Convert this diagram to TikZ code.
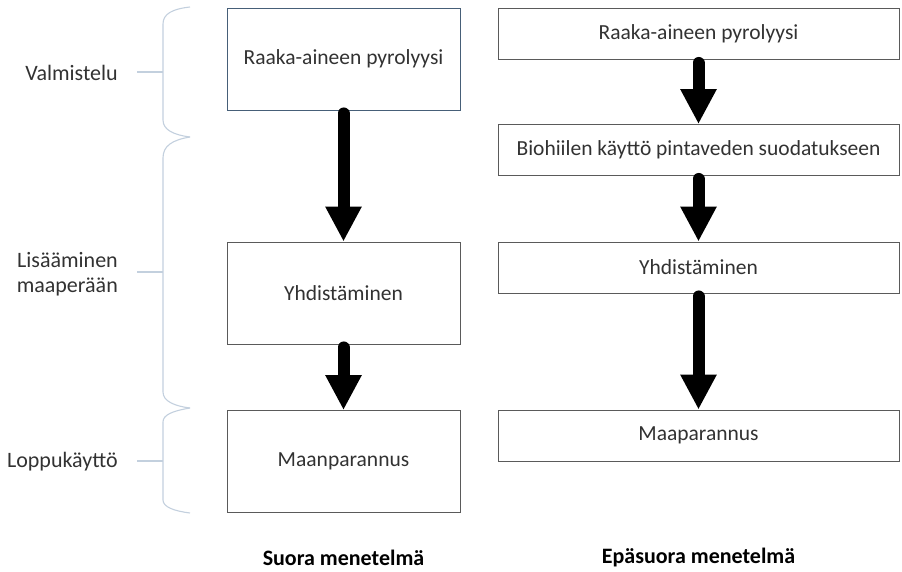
\documentclass[tikz,border=0pt]{standalone}
\usepackage{fontspec}
\setmainfont{Carlito}
\usetikzlibrary{arrows.meta}
\definecolor{boxline}{RGB}{90,90,90}
\definecolor{boxlineblue}{RGB}{70,95,120}
\definecolor{txt}{RGB}{50,50,50}
\definecolor{bracecol}{RGB}{195,208,222}
\tikzset{
  stepbox/.style={draw=boxline, line width=0.9pt, fill=white, inner sep=0pt, font=\fontsize{21.5}{25}\selectfont, text=txt},
  leftbox/.style={stepbox, minimum width=233pt, minimum height=102pt},
  rightbox/.style={stepbox, minimum width=401pt, minimum height=51pt},
  bigarrow/.style={line width=12pt, line cap=round, -{Triangle[width=34pt,length=35pt]}, shorten <=3pt},
  phase/.style={anchor=east, align=right, font=\fontsize{22}{25.5}\selectfont, text=txt, inner sep=0pt},
  bracestyle/.style={draw=bracecol, line width=1.1pt},
  method/.style={font=\bfseries\fontsize{22}{25}\selectfont, inner sep=0pt}
}
\begin{document}
\begin{tikzpicture}[x=1pt,y=-1pt]
\useasboundingbox (0,0) rectangle (902,572);
% left column
\node[leftbox, draw=boxlineblue] (l1) at (343.5,59) {Raaka-aineen pyrolyysi};
\node[leftbox] (l2) at (343.5,293) {Yhdistäminen};
\node[leftbox] (l3) at (343.5,461.5) {Maanparannus};
\draw[bigarrow] (l1.south) -- (l2.north);
\draw[bigarrow] (l2.south) -- (l3.north);
% right column
\node[rightbox] (r1) at (698.5,34) {Raaka-aineen pyrolyysi};
\node[rightbox] (r2) at (698.5,150) {Biohiilen käyttö pintaveden suodatukseen};
\node[rightbox] (r3) at (698.5,267.5) {Yhdistäminen};
\node[rightbox] (r4) at (698.5,435.5) {Maaparannus};
\draw[bigarrow] (r1.south) -- (r2.north);
\draw[bigarrow] (r2.south) -- (r3.north);
\draw[bigarrow] (r3.south) -- (r4.north);
% method labels
\node[method] (m1) at (343.5,558) {Suora menetelmä};
\node[method] (m2) at (698.5,558) {Epäsuora menetelmä};
% phase labels
\node[phase] (p1) at (118,73) {Valmistelu};
\node[phase] (p2) at (118,274) {Lisääminen\\maaperään};
\node[phase] (p3) at (118,462) {Loppukäyttö};
% braces
\coordinate (b1) at (163,72);
\coordinate (b2) at (163,272);
\coordinate (b3) at (163,461);
\draw[bracestyle] (190,7) .. controls (172,9) and (163,14) .. (163,24) -- (163,120) .. controls (163,130) and (174,135) .. (190,137);
\draw[bracestyle] (190,137) .. controls (172,140) and (163,146) .. (163,158) -- (163,392) .. controls (163,401) and (174,406) .. (190,408);
\draw[bracestyle] (190,408) .. controls (172,411) and (163,415) .. (163,422) -- (163,500) .. controls (163,507) and (174,511) .. (190,513);
\draw[bracestyle] ([xshift=-26pt]b1) -- (b1);
\draw[bracestyle] ([xshift=-26pt]b2) -- (b2);
\draw[bracestyle] ([xshift=-26pt]b3) -- (b3);
\end{tikzpicture}
\end{document}
